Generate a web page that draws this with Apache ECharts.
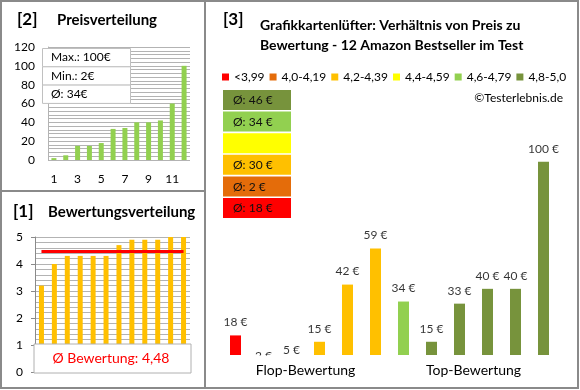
<!DOCTYPE html>
<html><head><meta charset="utf-8">
<script src="https://cdn.jsdelivr.net/npm/echarts@6/dist/echarts.min.js"></script>
<style>html,body{margin:0;padding:0;background:#fff}#c{width:580px;height:390px}</style>
</head><body><div id="c"></div>
<script>
// ---- data ----
const rankCats = ['1','2','3','4','5','6','7','8','9','10','11','12'];
const priceDist = [2, 5, 15, 15, 18, 33, 34, 40, 40, 42, 60, 100];
const priceStats = ['Max.: 100€', 'Min.: 2€', 'Ø: 34€'];
const ratingDist = [3.2, 4.0, 4.3, 4.3, 4.3, 4.3, 4.7, 4.9, 4.9, 4.9, 5.0, 5.0];
const ratingAvg = 4.48;
const ratingAvgText = 'Ø Bewertung: 4,48';
const productPrices = [18, 2, 5, 15, 42, 59, 34, 15, 33, 40, 40, 100];
const productRatings = [3.2, 4.0, 4.3, 4.3, 4.3, 4.3, 4.7, 4.9, 4.9, 4.9, 5.0, 5.0];
const bandNames = ['<3,99', '4,0-4,19', '4,2-4,39', '4,4-4,59', '4,6-4,79', '4,8-5,0'];
const bandUpper = [4.0, 4.2, 4.4, 4.6, 4.8, 5.01];
const bandColors = ['#FF0000', '#E46C0A', '#FFC000', '#FFFF00', '#92D050', '#77933C'];
const bandAvgLabels = ['Ø: 18 €', 'Ø: 2 €', 'Ø: 30 €', '', 'Ø: 34 €', 'Ø: 46 €'];
const groupLabels = ['Flop-Bewertung', 'Top-Bewertung'];
const titleMain = ['Grafikkartenlüfter: Verhältnis von Preis zu', 'Bewertung - 12 Amazon Bestseller im Test'];

const FONT = 'Lato, "Open Sans", sans-serif';
const bandOf = r => bandUpper.findIndex(u => r < u);

const chart = echarts.init(document.getElementById('c'), null, {renderer: 'canvas'});

const gridLine = {show: true, lineStyle: {color: '#b3b3b3', width: 1}};

const graphics = [
  {type: 'rect', shape: {x: 1, y: 1, width: 577, height: 387}, style: {fill: 'none', stroke: '#8a8a8a', lineWidth: 2}, z: 100},
  {type: 'line', shape: {x1: 205, y1: 1, x2: 205, y2: 388}, style: {stroke: '#8a8a8a', lineWidth: 2}, z: 100},
  {type: 'line', shape: {x1: 1, y1: 191, x2: 205, y2: 191}, style: {stroke: '#8a8a8a', lineWidth: 2}, z: 100},
  {type: 'text', x: 17, y: 20, style: {text: '[2]', font: 'bold 17px ' + FONT, fill: '#000', verticalAlign: 'middle'}},
  {type: 'text', x: 57, y: 20, style: {text: 'Preisverteilung', font: 'bold 15px ' + FONT, fill: '#000', verticalAlign: 'middle'}},
  {type: 'text', x: 13, y: 212, style: {text: '[1]', font: 'bold 17px ' + FONT, fill: '#000', verticalAlign: 'middle'}},
  {type: 'text', x: 48, y: 212, style: {text: 'Bewertungsverteilung', font: 'bold 15px ' + FONT, fill: '#000', verticalAlign: 'middle'}},
  {type: 'text', x: 223, y: 20, style: {text: '[3]', font: 'bold 17px ' + FONT, fill: '#000', verticalAlign: 'middle'}},
  {type: 'text', x: 260, y: 25, style: {text: titleMain[0], font: 'bold 14px ' + FONT, fill: '#000', verticalAlign: 'middle'}},
  {type: 'text', x: 260, y: 45, style: {text: titleMain[1], font: 'bold 14px ' + FONT, fill: '#000', verticalAlign: 'middle'}},
  {type: 'text', x: 563, y: 98, style: {text: '©Testerlebnis.de', font: '12px ' + FONT, fill: '#000', align: 'right', verticalAlign: 'middle'}},
  // average rating box
  {type: 'rect', z: 20, shape: {x: 34, y: 344, width: 157, height: 29}, style: {fill: '#fff', stroke: '#b0b0b0', lineWidth: 1}},
  {type: 'text', z: 21, x: 111, y: 358.5, style: {text: ratingAvgText, font: '14px ' + FONT, fill: '#FF0000', align: 'center', verticalAlign: 'middle'}},
  // cover for clipped label under the baseline
  {type: 'rect', z: 50, shape: {x: 248, y: 355.5, width: 30, height: 12}, style: {fill: '#fff'}}
];
priceStats.forEach((t, i) => {
  graphics.push({type: 'rect', z: 20, shape: {x: 42.5, y: 48.5 + i * 18.3, width: 88, height: 18.3}, style: {fill: '#fff', stroke: '#c0c0c0', lineWidth: 1}});
  graphics.push({type: 'text', z: 21, x: 51, y: 57.5 + i * 18.3, style: {text: t, font: '12px ' + FONT, fill: '#000', verticalAlign: 'middle'}});
});
for (let k = 0; k < 6; k++) {
  const b = 5 - k;
  const y = 90 + k * 21.6;
  graphics.push({type: 'rect', z: 20, shape: {x: 223, y: y, width: 68, height: 20}, style: {fill: bandColors[b]}});
  graphics.push({type: 'text', z: 21, x: 233, y: y + 10.5, style: {text: bandAvgLabels[b], font: '12px ' + FONT, fill: '#111', verticalAlign: 'middle'}});
}

const legendSeries = bandNames.map((n, i) => ({
  type: 'line', name: n, data: [], xAxisIndex: 2, yAxisIndex: 2, color: bandColors[i], itemStyle: {color: bandColors[i]}
}));

chart.setOption({
  animation: false,
  textStyle: {fontFamily: FONT},
  graphic: graphics,
  legend: {
    data: bandNames, left: 222, top: 71, icon: 'rect', itemWidth: 7, itemHeight: 7, itemGap: 5, padding: 0,
    selectedMode: false, textStyle: {fontSize: 12, color: '#000', fontFamily: FONT}
  },
  grid: [
    {left: 48, top: 47, width: 142, height: 113, outerBoundsMode: 'none'},
    {left: 35, top: 237, width: 155, height: 135, outerBoundsMode: 'none'},
    {left: 221.5, top: 130, width: 336, height: 225, outerBoundsMode: 'none'}
  ],
  xAxis: [
    {type: 'category', gridIndex: 0, data: rankCats, axisLine: {show: false}, axisTick: {show: false},
     axisLabel: {interval: 1, margin: 13, fontSize: 12, color: '#000', fontFamily: FONT}},
    {type: 'category', gridIndex: 1, data: rankCats, axisLine: {show: false}, axisTick: {show: false}, axisLabel: {show: false}},
    {type: 'category', gridIndex: 2, data: rankCats, position: 'bottom', show: false},
    {type: 'category', gridIndex: 2, data: groupLabels, position: 'bottom', z: 60, axisLine: {show: false}, axisTick: {show: false},
     axisLabel: {margin: 8, fontSize: 14, color: '#000', fontFamily: FONT}}
  ],
  yAxis: [
    {type: 'value', gridIndex: 0, min: 0, max: 120, interval: 20,
     axisLine: {show: true, lineStyle: {color: '#b3b3b3'}}, axisTick: {show: false},
     axisLabel: {margin: 13, fontSize: 12, color: '#000', fontFamily: FONT},
     splitLine: gridLine, minorTick: {show: false, splitNumber: 5}, minorSplitLine: gridLine},
    {type: 'value', gridIndex: 1, min: 0, max: 5, interval: 1,
     axisLine: {show: true, lineStyle: {color: '#8a8a8a'}}, axisTick: {show: true, inside: false, length: 4, lineStyle: {color: '#8a8a8a'}},
     axisLabel: {margin: 12, fontSize: 12, color: '#000', fontFamily: FONT},
     splitLine: gridLine, minorTick: {show: false, splitNumber: 5}, minorSplitLine: gridLine},
    {type: 'value', gridIndex: 2, min: 8.75, max: 115, show: false, splitLine: {show: false}}
  ],
  series: [
    {type: 'bar', xAxisIndex: 0, yAxisIndex: 0, data: priceDist, barWidth: 5, itemStyle: {color: '#92D050'}},
    {type: 'bar', xAxisIndex: 1, yAxisIndex: 1, data: ratingDist, barWidth: 5, itemStyle: {color: '#FFC000'},
     markLine: {silent: true, symbol: 'none', label: {show: false}, lineStyle: {color: '#FF0000', width: 3, type: 'solid'},
       data: [[{coord: [0, ratingAvg]}, {coord: [11, ratingAvg]}]]}},
    {type: 'bar', xAxisIndex: 2, yAxisIndex: 2, clip: true, barWidth: 11,
     data: productPrices.map((v, i) => ({value: v, itemStyle: {color: bandColors[bandOf(productRatings[i])]}}))},
    {type: 'scatter', xAxisIndex: 2, yAxisIndex: 2, clip: false, symbolSize: 0, silent: true,
     data: productPrices,
     label: {show: true, position: 'top', distance: 7, formatter: p => p.value + ' €', fontSize: 12, color: '#000', fontFamily: FONT}},
    ...legendSeries
  ]
});
</script></body></html>
